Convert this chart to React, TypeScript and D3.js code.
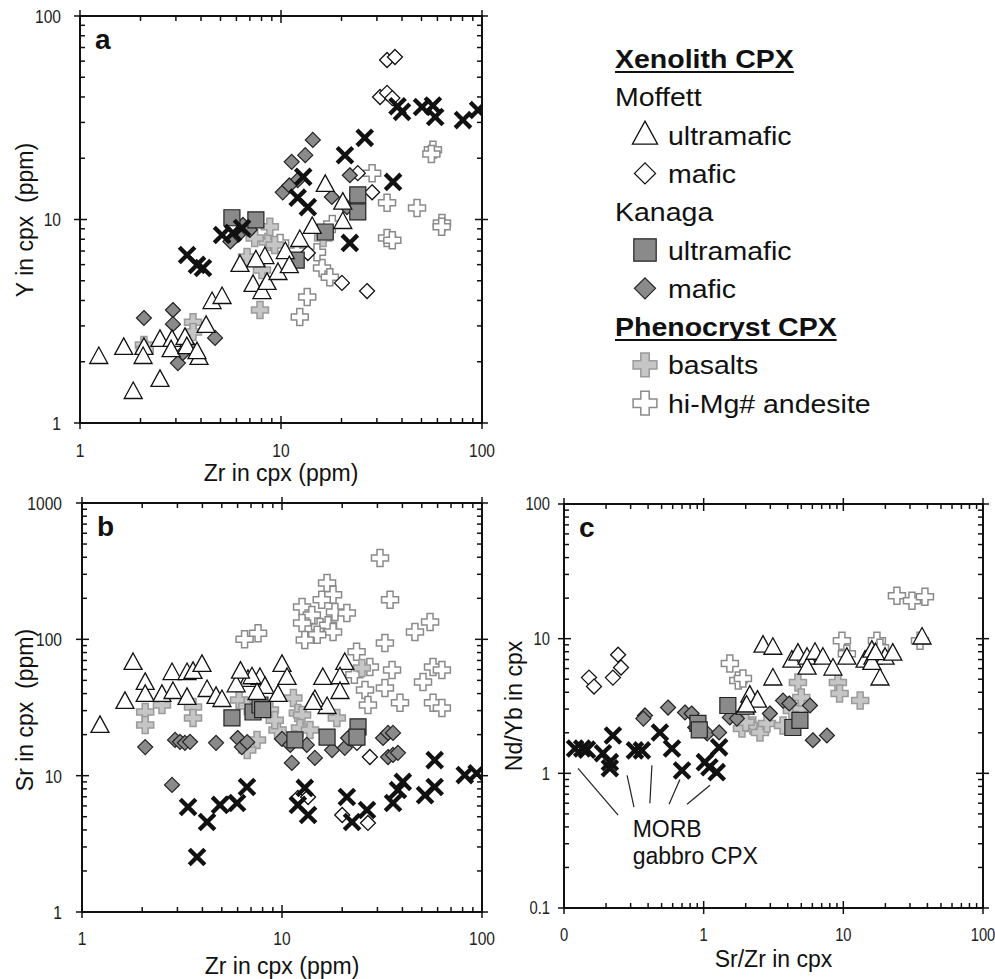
import { useEffect, useRef } from "react";
import * as d3 from "d3";

type Pt = [number, number];

// ---------- panel a : Zr (x) vs Y (y), ppm ----------
const A_MOF_ULTRA: Pt[] = [
  [1.24, 2.11], [1.65, 2.34], [2.08, 2.34], [2.06, 2.11], [1.84, 1.42], [2.5, 1.63],
  [2.5, 2.56], [2.87, 2.56], [2.84, 2.28], [3.33, 2.62], [3.4, 2.36], [3.91, 2.09],
  [3.82, 2.23], [4.24, 3.0], [4.54, 3.93], [5.09, 4.16], [7.26, 4.77], [8.04, 4.4],
  [8.52, 4.88], [8.32, 6.54], [9.66, 5.46], [10.5, 6.92], [14.3, 9.19], [20.3, 9.72],
  [16.6, 14.8], [20.3, 12.1], [6.25, 5.98], [12.4, 7.93], [7.5, 6.3], [11, 5.9],
];
const A_MOF_MAFIC: Pt[] = [
  [33.7, 60.8], [36.9, 62.9], [31.1, 40], [33.7, 41.9], [35.8, 39.5], [24.1, 16.9],
  [28.4, 13.6], [13.6, 6.84], [20.1, 4.88], [26.8, 4.45],
];
const A_KAN_ULTRA: Pt[] = [
  [5.7, 10.2], [7.5, 9.95], [11.9, 6.32], [16.6, 8.68], [24.1, 13.2], [24.1, 10.9],
];
const A_KAN_MAFIC: Pt[] = [
  [2.08, 3.28], [2.9, 3.59], [2.9, 3.06], [4.7, 2.62], [3.07, 1.97], [3.25, 2.21],
  [3.56, 2.34], [14.4, 24.6], [13.2, 20.7], [11.3, 19.2], [12.1, 15.6], [10.2, 13.6],
  [11.0, 14.7], [17.9, 12.9], [21.3, 11.5], [22.0, 16.5], [6.47, 9.4], [6.1, 8.4],
  [7.0, 8.9], [5.6, 7.8],
];
const A_BASALT: Pt[] = [
  [2.08, 2.42], [3.65, 3.13], [3.65, 2.8], [6.78, 6.54], [7.86, 3.59], [8.04, 5.65],
  [8.6, 7.75], [8.8, 9.2], [7.4, 8.1], [9.3, 7.5], [16.2, 8.1], [2.1, 2.3],
];
const A_ANDESITE: Pt[] = [
  [57, 22], [56, 21], [33.7, 12.1], [47.5, 11.4], [28.4, 16.9], [63.2, 9.6], [63, 9.2],
  [33.7, 8.1], [35.8, 7.9], [16, 5.78], [17.5, 5.2], [13.5, 4.16], [12.4, 3.32],
  [15.1, 6.9], [9.9, 7.67], [18, 9.5], [12, 7.0],
];
const A_MORB: Pt[] = [
  [3.41, 6.69], [3.82, 5.98], [4.09, 5.78], [5.09, 8.39], [5.77, 8.59], [6.4, 9.08],
  [12.9, 16.2], [12.1, 12.8], [13.6, 11.5], [20.8, 20.7], [26.1, 25.2], [36.1, 15.3],
  [40, 33.8], [38, 36], [50.3, 35.7], [57, 36.3], [58.5, 31.9], [80.4, 30.8],
  [95.6, 34.5], [22.0, 7.67],
];

// ---------- panel b : Zr (x) vs Sr (y), ppm ----------
const B_MOF_ULTRA: Pt[] = [
  [1.8, 67.1], [1.64, 34.8], [2.07, 47.9], [2.07, 39.1], [2.51, 39.1], [2.82, 56.6],
  [2.85, 41.1], [3.35, 56.6], [3.35, 37.2], [3.59, 57.7], [3.98, 64.9], [4.22, 42.5],
  [4.68, 37.8], [5.01, 35.9], [6.76, 50.4], [1.23, 23.2], [7.76, 52.1], [10, 64.9],
  [7.08, 52.7], [10.6, 52.1], [8.22, 44.8], [7.5, 40.4], [9.55, 39.1], [16, 52.1],
  [20.6, 67.1], [19.5, 52.7], [19.5, 41.1], [14.6, 35.9], [16.8, 31.9], [14.3, 34.2],
  [5.9, 46], [6.2, 58],
];
const B_MOF_MAFIC: Pt[] = [
  [23.7, 17.4], [27.5, 13.7], [12, 6.86], [13.5, 6.97], [20, 5.15], [26.9, 4.5], [5.37, 6.2],
];
const B_KAN_ULTRA: Pt[] = [
  [5.62, 26.5], [7.16, 29.3], [7.76, 33], [11.6, 18.3], [16.8, 19.2], [24, 22.8],
  [23.7, 19.2], [8, 30.5],
];
const B_KAN_MAFIC: Pt[] = [
  [2.07, 16.2], [2.82, 8.55], [2.92, 18.3], [3.09, 17.7], [3.27, 17.4], [3.47, 17.7],
  [4.68, 17.4], [6.0, 18.9], [6.3, 16.2], [10, 18.6], [11, 16.8], [11.2, 12.4],
  [14.6, 13.5], [13.3, 16.8], [17.8, 15.4], [20.6, 16], [21.4, 18.9], [32, 18.9],
  [33.9, 20.6], [35.9, 20.6], [33.9, 13.7], [35.9, 14.2], [38, 14.7], [6.7, 17.6],
];
const B_BASALT: Pt[] = [
  [2.07, 29.3], [2.07, 23.5], [2.51, 33], [3.59, 31.9], [3.59, 26.5], [6.1, 35.9],
  [6.7, 32.5], [11.4, 37.2], [12, 28.8], [25.1, 61.7], [8.7, 30.3], [9.5, 21.6],
  [7.5, 18.3], [12.6, 27.9], [12.3, 22.4], [13.8, 21.6], [18.8, 26.5], [6.7, 15.4],
  [9.2, 25.5],
];
const B_ANDESITE: Pt[] = [
  [6.5, 100], [7.59, 111], [30.9, 395], [34.7, 195], [16.8, 259], [18, 212], [15.8, 195],
  [12.6, 173], [14.1, 151], [18.4, 159], [21.1, 156], [12.6, 132], [15.5, 123], [17, 127],
  [18, 113], [15, 108], [13, 99], [23.6, 81], [32.7, 94], [46.2, 113], [55, 134],
  [27.5, 62.7], [35.5, 59.6], [26, 42.5], [32.7, 44], [50.7, 48.7], [56.9, 62.7],
  [63, 59.6], [38.9, 34.2], [56.9, 34.2], [63, 31.4], [26.9, 33], [23, 55],
];
const B_MORB: Pt[] = [
  [3.39, 5.89], [4.22, 4.57], [3.76, 2.53], [4.9, 6.1], [5.96, 6.3], [6.68, 8.26],
  [13, 8.13], [12, 6.1], [13.5, 5.15], [21.1, 6.97], [22.4, 4.57], [26.6, 5.6],
  [35.9, 6.3], [40.2, 9], [38, 7.85], [51.9, 7.2], [58, 8.26], [58, 13], [82, 10.1],
  [94, 10.4],
];

// ---------- panel c : Sr/Zr (x) vs Nd/Yb (y) ----------
const C_MOF_ULTRA: Pt[] = [
  [2.66, 8.87], [3.13, 8.56], [4.28, 6.87], [4.73, 7.74], [5.5, 7.22], [5.5, 6.1],
  [6.27, 7.86], [7.14, 7.22], [8.43, 6.0], [10.6, 7.22], [14.3, 6.87], [16, 8.15],
  [16.3, 7.22], [19.9, 7.22], [22.6, 7.74], [18.3, 5.06], [36.6, 10.2], [3.13, 5.06],
  [2.14, 3.78], [2.43, 3.47], [1.98, 3.08], [2.03, 3.19], [16, 6.6], [17, 7.8],
];
const C_MOF_MAFIC: Pt[] = [
  [0.151, 5.14], [0.164, 4.41], [0.244, 7.6], [0.256, 6.1], [0.224, 5.14],
];
const C_KAN_ULTRA: Pt[] = [
  [0.91, 2.35], [0.93, 2.1], [1.49, 3.19], [4.35, 2.19], [4.89, 2.47],
];
const C_KAN_MAFIC: Pt[] = [
  [0.38, 2.69], [0.37, 2.55], [0.556, 3.08], [0.735, 2.83], [0.82, 2.78], [0.87, 2.19],
  [1.06, 1.98], [1.29, 2.01], [1.54, 2.6], [1.73, 2.55], [2.98, 2.78], [3.7, 3.47],
  [5.77, 3.19], [6.05, 1.76], [7.63, 1.91], [4.1, 3.3],
];
const C_BASALT: Pt[] = [
  [1.88, 2.15], [2.25, 2.27], [2.53, 2.01], [2.84, 2.34], [3.7, 2.27], [4.28, 2.93],
  [5, 3.03], [4.73, 4.72], [5, 3.66], [9.14, 4.72], [9.4, 3.92], [13.2, 3.47], [2.0, 2.4],
];
const C_ANDESITE: Pt[] = [
  [1.54, 6.53], [1.77, 4.89], [1.91, 5.06], [9.77, 9.66], [10.6, 7.74], [17.4, 9.66],
  [18.3, 8.56], [24.2, 20.8], [31, 19.1], [38.4, 20.5], [35.4, 9.66],
];
const C_MORB: Pt[] = [
  [0.12, 1.53], [0.135, 1.53], [0.146, 1.5], [0.19, 1.41], [0.224, 1.91], [0.213, 1.21],
  [0.213, 1.09], [0.322, 1.48], [0.361, 1.48], [0.486, 2.01], [0.593, 1.53], [0.7, 1.05],
  [1.02, 1.21], [1.1, 1.11], [1.24, 1.02], [1.29, 1.56],
];
// leader lines from the MORB crosses to their label
const C_MORB_LEADERS: [Pt, Pt][] = [
  [[0.126, 1.09], [0.244, 0.489]],
  [[0.283, 0.966], [0.317, 0.56]],
  [[0.426, 1.15], [0.412, 0.6]],
  [[0.676, 0.9], [0.565, 0.59]],
  [[1.11, 0.815], [0.76, 0.59]],
];
const C_MORB_LABEL_AT: Pt = [0.31, 0.336];

// tick labels
const AB_X_TICKS = ["1", "10", "100"];
const A_Y_TICKS = ["1", "10", "100"];
const B_Y_TICKS = ["1", "10", "100", "1000"];
const C_X_TICKS = ["0", "1", "10", "100"];
const C_Y_TICKS = ["0.1", "1", "10", "100"];

const FONT = "'Liberation Sans', Arial, Helvetica, sans-serif";

type Shape = "triangle" | "diamond" | "square" | "plus" | "x";
interface Style { shape: Shape; fill: string; stroke: string; sw: number }

const STYLE: Record<string, Style> = {
  andesite: { shape: "plus", fill: "#ffffff", stroke: "#8a8a8a", sw: 1.5 },
  basalt: { shape: "plus", fill: "#c6c6c6", stroke: "#9a9a9a", sw: 1.5 },
  mofMafic: { shape: "diamond", fill: "#ffffff", stroke: "#111", sw: 1.3 },
  kanMafic: { shape: "diamond", fill: "#8a8a8a", stroke: "#222", sw: 1.2 },
  kanUltra: { shape: "square", fill: "#8a8a8a", stroke: "#222", sw: 1.2 },
  mofUltra: { shape: "triangle", fill: "#ffffff", stroke: "#111", sw: 1.3 },
  morb: { shape: "x", fill: "none", stroke: "#111", sw: 4.3 },
};
const DRAW_ORDER = ["andesite", "basalt", "mofMafic", "kanMafic", "kanUltra", "mofUltra", "morb"];

function shapePath(shape: Shape, k: number) {
  const p = d3.path();
  if (shape === "triangle") {
    p.moveTo(0, -10 * k); p.lineTo(9 * k, 6.5 * k); p.lineTo(-9 * k, 6.5 * k); p.closePath();
  } else if (shape === "diamond") {
    const r = 7.5 * k;
    p.moveTo(0, -r); p.lineTo(r, 0); p.lineTo(0, r); p.lineTo(-r, 0); p.closePath();
  } else if (shape === "square") {
    p.rect(-8 * k, -8 * k, 16 * k, 16 * k);
  } else if (shape === "plus") {
    const a = 3 * k, l = 8.5 * k;
    p.moveTo(-a, -l); p.lineTo(a, -l); p.lineTo(a, -a); p.lineTo(l, -a); p.lineTo(l, a);
    p.lineTo(a, a); p.lineTo(a, l); p.lineTo(-a, l); p.lineTo(-a, a); p.lineTo(-l, a);
    p.lineTo(-l, -a); p.lineTo(-a, -a); p.closePath();
  } else {
    const r = 7.8 * k;
    p.moveTo(-r, -r); p.lineTo(r, r); p.moveTo(r, -r); p.lineTo(-r, r);
  }
  return p.toString();
}

interface PanelCfg {
  letter: string;
  box: { left: number; right: number; top: number; bottom: number };
  xDomain: [number, number];
  yDomain: [number, number];
  xTicks: string[];
  yTicks: string[];
  xLabel: string;
  yLabel: string;
  xLabelY: number;
  xTickY: number;
  yTickRight: number;
  yLabelX: number;
  yLabelCY: number;
  tickSize: number;
  series: Record<string, Pt[]>;
}

const PANELS: PanelCfg[] = [
  {
    letter: "a",
    box: { left: 80, right: 482, top: 16, bottom: 423 },
    xDomain: [1, 100], yDomain: [1, 100],
    xTicks: AB_X_TICKS, yTicks: A_Y_TICKS,
    xLabel: "Zr in cpx (ppm)", yLabel: "Y in cpx  (ppm)",
    xLabelY: 481, xTickY: 457, yTickRight: 61, yLabelX: 33, yLabelCY: 220, tickSize: 19,
    series: {
      andesite: A_ANDESITE, basalt: A_BASALT, mofMafic: A_MOF_MAFIC, kanMafic: A_KAN_MAFIC,
      kanUltra: A_KAN_ULTRA, mofUltra: A_MOF_ULTRA, morb: A_MORB,
    },
  },
  {
    letter: "b",
    box: { left: 82, right: 482, top: 503, bottom: 912 },
    xDomain: [1, 100], yDomain: [1, 1000],
    xTicks: AB_X_TICKS, yTicks: B_Y_TICKS,
    xLabel: "Zr in cpx (ppm)", yLabel: "Sr in cpx  (ppm)",
    xLabelY: 974, xTickY: 945, yTickRight: 62, yLabelX: 33, yLabelCY: 710, tickSize: 19,
    series: {
      andesite: B_ANDESITE, basalt: B_BASALT, mofMafic: B_MOF_MAFIC, kanMafic: B_KAN_MAFIC,
      kanUltra: B_KAN_ULTRA, mofUltra: B_MOF_ULTRA, morb: B_MORB,
    },
  },
  {
    letter: "c",
    box: { left: 564, right: 983, top: 504, bottom: 908 },
    xDomain: [0.1, 100], yDomain: [0.1, 100],
    xTicks: C_X_TICKS, yTicks: C_Y_TICKS,
    xLabel: "Sr/Zr in cpx", yLabel: "Nd/Yb in cpx",
    xLabelY: 967, xTickY: 941, yTickRight: 550, yLabelX: 522, yLabelCY: 706, tickSize: 18,
    series: {
      andesite: C_ANDESITE, basalt: C_BASALT, mofMafic: C_MOF_MAFIC, kanMafic: C_KAN_MAFIC,
      kanUltra: C_KAN_ULTRA, mofUltra: C_MOF_ULTRA, morb: C_MORB,
    },
  },
];

const isMajor = (v: number) => Math.abs(Math.log10(v) - Math.round(Math.log10(v))) < 1e-6;

function drawPanel(svg: d3.Selection<SVGSVGElement, unknown, null, undefined>, cfg: PanelCfg) {
  const { left, right, top, bottom } = cfg.box;
  const x = d3.scaleLog().domain(cfg.xDomain).range([left, right]);
  const y = d3.scaleLog().domain(cfg.yDomain).range([bottom, top]);
  const g = svg.append("g");

  // markers (clipped to the frame)
  const clipId = `clip-${cfg.letter}`;
  svg.append("clipPath").attr("id", clipId)
    .append("rect").attr("x", left).attr("y", top).attr("width", right - left).attr("height", bottom - top);
  const marks = g.append("g").attr("clip-path", `url(#${clipId})`);
  DRAW_ORDER.forEach((key) => {
    const st = STYLE[key];
    const d = shapePath(st.shape, 1);
    marks.append("g").selectAll("path").data(cfg.series[key]).join("path")
      .attr("transform", (p) => `translate(${x(p[0])},${y(p[1])})`)
      .attr("d", d)
      .attr("fill", st.fill)
      .attr("stroke", st.stroke)
      .attr("stroke-width", st.sw)
      .attr("stroke-linejoin", "miter");
  });

  // frame
  g.append("rect").attr("x", left).attr("y", top).attr("width", right - left).attr("height", bottom - top)
    .attr("fill", "none").attr("stroke", "#111").attr("stroke-width", 2);

  const tk = g.append("g").attr("stroke", "#111").attr("stroke-width", 1.5);
  x.ticks().forEach((v) => {
    const px = x(v);
    const M = isMajor(v);
    tk.append("line").attr("x1", px).attr("x2", px).attr("y1", bottom + (M ? 6 : 0)).attr("y2", bottom - (M ? 7 : 5));
    tk.append("line").attr("x1", px).attr("x2", px).attr("y1", top - (M ? 6 : 0)).attr("y2", top + (M ? 7 : 5));
  });
  y.ticks().forEach((v) => {
    const py = y(v);
    const M = isMajor(v);
    tk.append("line").attr("y1", py).attr("y2", py).attr("x1", left - (M ? 6 : 0)).attr("x2", left + (M ? 7 : 5));
    tk.append("line").attr("y1", py).attr("y2", py).attr("x1", right + (M ? 6 : 0)).attr("x2", right - (M ? 7 : 5));
  });

  const xMajors = x.ticks().filter(isMajor);
  const yMajors = y.ticks().filter(isMajor);
  xMajors.forEach((v, i) => {
    g.append("text")
      .attr("transform", `translate(${x(v)},${cfg.xTickY}) scale(0.82,1)`)
      .attr("text-anchor", "middle")
      .attr("font-family", FONT).attr("font-size", cfg.tickSize).attr("fill", "#222")
      .text(cfg.xTicks[i]);
  });
  yMajors.forEach((v, i) => {
    g.append("text")
      .attr("transform", `translate(${cfg.yTickRight},${y(v) + cfg.tickSize * 0.36}) scale(0.82,1)`)
      .attr("text-anchor", "end")
      .attr("font-family", FONT).attr("font-size", cfg.tickSize).attr("fill", "#222")
      .text(cfg.yTicks[i]);
  });

  g.append("text")
    .attr("x", (left + right) / 2).attr("y", cfg.xLabelY)
    .attr("text-anchor", "middle")
    .attr("font-family", FONT).attr("font-size", 23).attr("fill", "#111")
    .text(cfg.xLabel);
  g.append("text")
    .attr("transform", `translate(${cfg.yLabelX},${cfg.yLabelCY}) rotate(-90)`)
    .attr("text-anchor", "middle")
    .attr("font-family", FONT).attr("font-size", 23).attr("fill", "#111")
    .style("white-space", "pre")
    .text(cfg.yLabel);

  g.append("text")
    .attr("x", left + 15).attr("y", top + 33)
    .attr("font-family", FONT).attr("font-size", 28).attr("font-weight", "bold").attr("fill", "#111")
    .text(cfg.letter);

  if (cfg.letter === "c") {
    const lead = g.append("g").attr("stroke", "#222").attr("stroke-width", 1.2);
    C_MORB_LEADERS.forEach(([a, b]) => {
      lead.append("line").attr("x1", x(a[0])).attr("y1", y(a[1])).attr("x2", x(b[0])).attr("y2", y(b[1]));
    });
    const lx = x(C_MORB_LABEL_AT[0]);
    const ly = y(C_MORB_LABEL_AT[1]);
    ["MORB", "gabbro CPX"].forEach((t, i) => {
      g.append("text").attr("x", lx).attr("y", ly + i * 27)
        .attr("font-family", FONT).attr("font-size", 23).attr("fill", "#111").text(t);
    });
  }
}

interface LegendRow { text: string; kind: "header" | "group" | "item"; key?: string }
const LEGEND_ROWS: LegendRow[] = [
  { text: "Xenolith CPX", kind: "header" },
  { text: "Moffett", kind: "group" },
  { text: "ultramafic", kind: "item", key: "mofUltra" },
  { text: "mafic", kind: "item", key: "mofMafic" },
  { text: "Kanaga", kind: "group" },
  { text: "ultramafic", kind: "item", key: "kanUltra" },
  { text: "mafic", kind: "item", key: "kanMafic" },
  { text: "Phenocryst CPX", kind: "header" },
  { text: "basalts", kind: "item", key: "basalt" },
  { text: "hi-Mg# andesite", kind: "item", key: "andesite" },
];

function drawLegend(svg: d3.Selection<SVGSVGElement, unknown, null, undefined>) {
  const x0 = 615, y0 = 68, step = 38.3;
  const g = svg.append("g");
  LEGEND_ROWS.forEach((row, i) => {
    const by = y0 + i * step;
    if (row.kind === "item" && row.key) {
      const st = STYLE[row.key];
      g.append("path")
        .attr("transform", `translate(645,${by - 9.5})`)
        .attr("d", shapePath(st.shape, 1.4))
        .attr("fill", st.fill).attr("stroke", st.stroke).attr("stroke-width", st.sw);
    }
    const tx = row.kind === "item" ? 668 : x0;
    const t = g.append("text")
      .attr("transform", `translate(${tx},${by}) scale(1.14,1)`)
      .attr("font-family", FONT).attr("font-size", 25).attr("fill", "#111")
      .attr("font-weight", row.kind === "header" ? "bold" : "normal")
      .text(row.text);
    if (row.kind === "header") {
      const w = (t.node() as SVGTextElement).getComputedTextLength() * 1.14;
      g.append("line").attr("x1", tx).attr("x2", tx + w).attr("y1", by + 4).attr("y2", by + 4)
        .attr("stroke", "#111").attr("stroke-width", 2);
    }
  });
}

export default function App() {
  const ref = useRef<SVGSVGElement>(null);
  useEffect(() => {
    if (!ref.current) return;
    const svg = d3.select(ref.current);
    svg.selectAll("*").remove();
    PANELS.forEach((p) => drawPanel(svg, p));
    drawLegend(svg);
  }, []);
  return (
    <div style={{ position: "absolute", left: 0, top: 0, background: "#fff" }}>
      <svg ref={ref} width={995} height={979} viewBox="0 0 995 979" />
    </div>
  );
}
